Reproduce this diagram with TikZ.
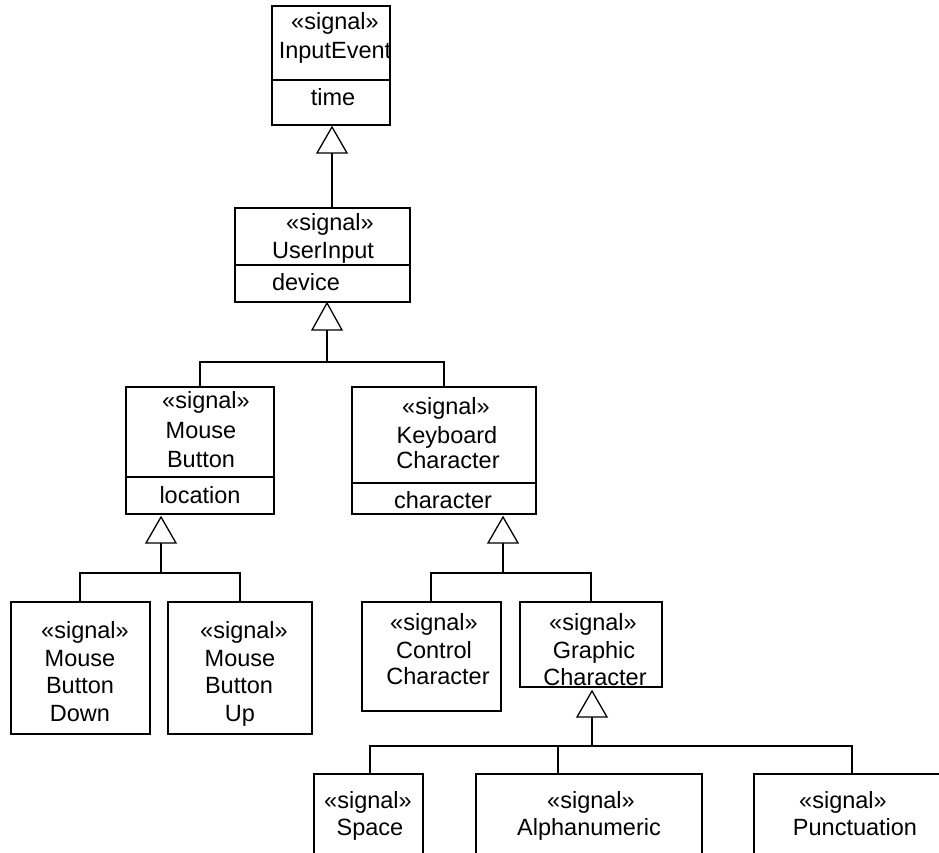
\documentclass[tikz,border=0pt]{standalone}
\usepackage{fontspec}
\setmainfont{Liberation Sans}
\begin{document}
\begin{tikzpicture}[x=1pt,y=-1pt,
  cls/.style={draw, line width=2pt, anchor=north west, inner sep=0pt, outer sep=0pt},
  lbl/.style={anchor=base, inner sep=0pt, font=\fontsize{23.5}{28}\selectfont},
  conn/.style={line width=2pt},
  gen/.style={line width=1.3pt, fill=white, line join=miter}]
\useasboundingbox (0,0) rectangle (939,852);
\clip (0,0) rectangle (939,852);

% ---------- class boxes ----------
\node[cls, minimum width=118pt, minimum height=119pt] (ie)  at (272,6)   {};
\node[cls, minimum width=175pt, minimum height=94pt]  (ui)  at (235,208) {};
\node[cls, minimum width=148pt, minimum height=127pt] (mb)  at (126,387) {};
\node[cls, minimum width=184pt, minimum height=127pt] (kc)  at (352,387) {};
\node[cls, minimum width=139pt, minimum height=132pt] (mbd) at (11,602)  {};
\node[cls, minimum width=144pt, minimum height=132pt] (mbu) at (168,602) {};
\node[cls, minimum width=139pt, minimum height=109pt] (cc)  at (362,602) {};
\node[cls, minimum width=142pt, minimum height=85pt]  (gc)  at (520,602) {};
\node[cls, minimum width=109pt, minimum height=100pt] (sp)  at (314,774) {};
\node[cls, minimum width=226pt, minimum height=100pt] (al)  at (476,774) {};
\node[cls, minimum width=220pt, minimum height=100pt] (pu)  at (754,774) {};

% compartment dividers
\draw[conn] (ie.west |- 0,80)  -- (ie.east |- 0,80);
\draw[conn] (ui.west |- 0,265) -- (ui.east |- 0,265);
\draw[conn] (mb.west |- 0,477) -- (mb.east |- 0,477);
\draw[conn] (kc.west |- 0,483) -- (kc.east |- 0,483);

% ---------- texts ----------
\node[lbl] (ie1) at (335,29)  {«signal»};
\node[lbl] (ie2) at (335,58)  {InputEvent};
\node[lbl] (ie3) at (333,105) {time};

\node[lbl] (ui1) at (330,230) {«signal»};
\node[lbl] (ui2) at (323,258) {UserInput};
\node[lbl] (ui3) at (306,290) {device};

\node[lbl] (mb1) at (206,408) {«signal»};
\node[lbl] (mb2) at (201,438) {Mouse};
\node[lbl] (mb3) at (201,467) {Button};
\node[lbl] (mb4) at (200,503) {location};

\node[lbl] (kc1) at (446,414) {«signal»};
\node[lbl] (kc2) at (447,443) {Keyboard};
\node[lbl] (kc3) at (448,468) {Character};
\node[lbl] (kc4) at (443,508) {character};

\node[lbl] (mbd1) at (85,638) {«signal»};
\node[lbl] (mbd2) at (80,666) {Mouse};
\node[lbl] (mbd3) at (80,693) {Button};
\node[lbl] (mbd4) at (80,721) {Down};

\node[lbl] (mbu1) at (244,638) {«signal»};
\node[lbl] (mbu2) at (240,666) {Mouse};
\node[lbl] (mbu3) at (239,693) {Button};
\node[lbl] (mbu4) at (240,721) {Up};

\node[lbl] (cc1) at (434,630) {«signal»};
\node[lbl] (cc2) at (434,658) {Control};
\node[lbl] (cc3) at (438,684) {Character};

\node[lbl] (gc1) at (593,630) {«signal»};
\node[lbl] (gc2) at (594,658) {Graphic};
\node[lbl] (gc3) at (595,685) {Character};

\node[lbl] (sp1) at (368,808) {«signal»};
\node[lbl] (sp2) at (370,835) {Space};
\node[lbl] (al1) at (591,808) {«signal»};
\node[lbl] (al2) at (589,835) {Alphanumeric};
\node[lbl] (pu1) at (843,808) {«signal»};
\node[lbl] (pu2) at (855,835) {Punctuation};

% ---------- generalizations ----------
% UserInput -> InputEvent
\coordinate (t1) at (332,127);
\coordinate (t1b) at (332,153);
\draw[conn] (t1b) -- (ui.north -| t1b);
\draw[gen] (t1) -- (317,153) -- (347,153) -- cycle;

% MouseButton, KeyboardCharacter -> UserInput
\coordinate (t2) at (327,303);
\coordinate (t2b) at (327,330);
\coordinate (j2) at (327,362);
\draw[conn] (t2b) -- (j2);
\draw[conn] (mb.north -| 200,0) -- (200,362) -- (444,362) -- (kc.north -| 444,0);
\draw[gen] (t2) -- (312,330) -- (342,330) -- cycle;

% MouseButtonDown, MouseButtonUp -> MouseButton
\coordinate (t3) at (161,517);
\coordinate (t3b) at (161,543);
\coordinate (j3) at (161,573);
\draw[conn] (t3b) -- (j3);
\draw[conn] (mbd.north -| 80,0) -- (80,573) -- (240,573) -- (mbu.north -| 240,0);
\draw[gen] (t3) -- (146,543) -- (176,543) -- cycle;

% ControlCharacter, GraphicCharacter -> KeyboardCharacter
\coordinate (t4) at (503,517);
\coordinate (t4b) at (503,543);
\coordinate (j4) at (503,573);
\draw[conn] (t4b) -- (j4);
\draw[conn] (cc.north -| 431,0) -- (431,573) -- (591,573) -- (gc.north -| 591,0);
\draw[gen] (t4) -- (488,543) -- (518,543) -- cycle;

% Space, Alphanumeric, Punctuation -> GraphicCharacter
\coordinate (t5) at (592,691);
\coordinate (t5b) at (592,717);
\coordinate (j5) at (592,746);
\draw[conn] (t5b) -- (j5);
\draw[conn] (sp.north -| 370,0) -- (370,746) -- (852,746) -- (pu.north -| 852,0);
\draw[conn] (al.north -| 558,0) -- (558,746);
\draw[gen] (t5) -- (577,717) -- (607,717) -- cycle;
\end{tikzpicture}
\end{document}
